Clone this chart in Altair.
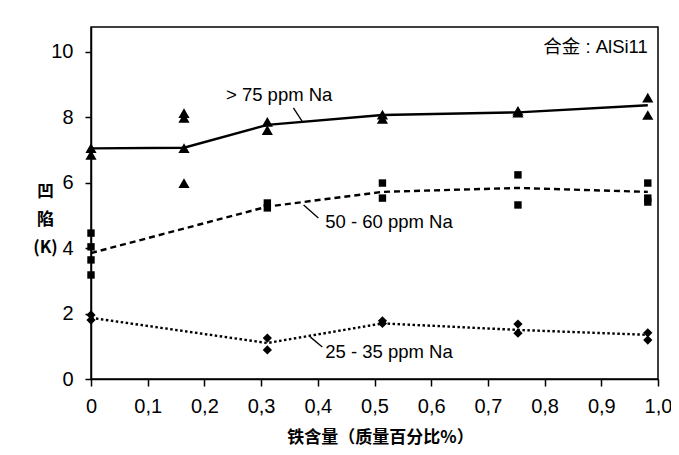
import altair as alt
import pandas as pd

# ---- data ----
tri_x = [0, 0, 0.164, 0.164, 0.164, 0.164, 0.311, 0.311, 0.514, 0.514, 0.753, 0.753, 0.982, 0.982]
tri_y = [7.06, 6.85, 8.13, 7.98, 7.06, 5.99, 7.86, 7.61, 8.08, 7.95, 8.20, 8.14, 8.60, 8.07]
l75_x = [0, 0.164, 0.311, 0.514, 0.753, 0.982]
l75_y = [7.05, 7.07, 7.77, 8.07, 8.15, 8.37]

sq_x = [0, 0, 0, 0, 0.311, 0.311, 0.514, 0.514, 0.753, 0.753, 0.982, 0.982, 0.982]
sq_y = [4.46, 4.04, 3.64, 3.18, 5.38, 5.23, 5.99, 5.53, 6.24, 5.32, 5.99, 5.53, 5.41]
l50_x = [0, 0.311, 0.514, 0.753, 0.982]
l50_y = [3.85, 5.27, 5.72, 5.84, 5.72]

dia_x = [0, 0, 0.311, 0.311, 0.514, 0.514, 0.753, 0.753, 0.982, 0.982]
dia_y = [1.96, 1.80, 1.25, 0.89, 1.78, 1.70, 1.68, 1.40, 1.41, 1.19]
l25_x = [0, 0.311, 0.514, 0.753, 0.982]
l25_y = [1.87, 1.10, 1.70, 1.50, 1.35]

ann_text = ["> 75 ppm Na", "50 - 60 ppm Na", "25 - 35 ppm Na"]
ann_x = [0.238, 0.413, 0.413]
ann_y = [8.68, 4.80, 0.83]
lead_x = [0.357, 0.375, 0.387]
lead_y = [8.29, 5.32, 1.28]
lead_x2 = [0.373, 0.401, 0.408]
lead_y2 = [7.86, 4.92, 0.98]

alloy_text = ["合金 : AlSi11"]
alloy_x = [0.982]
alloy_y = [10.15]

x_ticks = [0, 0.1, 0.2, 0.3, 0.4, 0.5, 0.6, 0.7, 0.8, 0.9, 1.0]
y_ticks = [0, 2, 4, 6, 8, 10]
x_title = "铁含量（质量百分比%）"
y_title = ["凹", "陷", "(K)"]

FONT = "Liberation Sans, Arial, Noto Sans CJK SC"
CJK = "Noto Sans CJK SC"

xs = alt.Scale(domain=[0, 1], nice=False, zero=False)
ys = alt.Scale(domain=[0, 10.76], nice=False)

x_enc = alt.X("x:Q", scale=xs, axis=alt.Axis(
    values=x_ticks, title=x_title, grid=False, labelFlush=False,
    labelExpr="datum.value == 0 ? '0' : replace(format(datum.value, '.1f'), '.', ',')",
    labelFont=FONT, labelFontSize=20, labelColor="black", labelPadding=10,
    tickSize=7, tickColor="black", tickWidth=1.5,
    domainColor="black", domainWidth=1.5,
    titleFont=CJK, titleFontSize=17, titleFontWeight="bold", titleColor="black",
    titleX=289, titleY=58, titleBaseline="middle", titleAlign="center",
))
y_enc = alt.Y("y:Q", scale=ys, axis=alt.Axis(
    values=y_ticks, title=y_title, grid=False, labelFlush=False,
    labelFont=FONT, labelFontSize=20, labelColor="black", labelPadding=12,
    tickSize=6, tickColor="black", tickWidth=1.5,
    domainColor="black", domainWidth=1.5,
    titleFont=CJK, titleFontSize=17, titleFontWeight="bold", titleColor="black",
    titleAngle=0, titleAlign="center", titleBaseline="top",
    titleX=-46, titleY=156, titleLineHeight=28,
))

tri = pd.DataFrame({"x": tri_x, "y": tri_y})
sq = pd.DataFrame({"x": sq_x, "y": sq_y})
dia = pd.DataFrame({"x": dia_x, "y": dia_y})
l75 = pd.DataFrame({"x": l75_x, "y": l75_y})
l50 = pd.DataFrame({"x": l50_x, "y": l50_y})
l25 = pd.DataFrame({"x": l25_x, "y": l25_y})
ann = pd.DataFrame({"t": ann_text, "x": ann_x, "y": ann_y,
                    "lx": lead_x, "ly": lead_y, "lx2": lead_x2, "ly2": lead_y2})
alloy = pd.DataFrame({"t": alloy_text, "x": alloy_x, "y": alloy_y})

base_line = dict(color="black", strokeWidth=2.4)

line75 = alt.Chart(l75).mark_line(**base_line).encode(x=x_enc, y=y_enc)
line50 = alt.Chart(l50).mark_line(strokeDash=[6, 4], **base_line).encode(x=x_enc, y=y_enc)
line25 = alt.Chart(l25).mark_line(strokeDash=[2.5, 2.5], **base_line).encode(x=x_enc, y=y_enc)

pts_tri = alt.Chart(tri).mark_point(shape="triangle-up", filled=True, color="black",
                                    opacity=1, size=125).encode(x=x_enc, y=y_enc)
pts_sq = alt.Chart(sq).mark_point(shape="square", filled=True, color="black",
                                  opacity=1, size=55).encode(x=x_enc, y=y_enc)
pts_dia = alt.Chart(dia).mark_point(shape="diamond", filled=True, color="black",
                                    opacity=1, size=85).encode(x=x_enc, y=y_enc)

leaders = alt.Chart(ann).mark_rule(color="black", strokeWidth=1.3).encode(
    x=alt.X("lx:Q", scale=xs), y=alt.Y("ly:Q", scale=ys),
    x2="lx2:Q", y2="ly2:Q")
labels = alt.Chart(ann).mark_text(align="left", baseline="middle", font=FONT,
                                  fontSize=18.5, color="black").encode(
    x=alt.X("x:Q", scale=xs), y=alt.Y("y:Q", scale=ys), text="t:N")
alloy_lbl = alt.Chart(alloy).mark_text(align="right", baseline="middle", font=FONT,
                                       fontSize=18.5, color="black").encode(
    x=alt.X("x:Q", scale=xs), y=alt.Y("y:Q", scale=ys), text="t:N")

chart = alt.layer(line75, line50, line25, pts_tri, pts_sq, pts_dia,
                  leaders, labels, alloy_lbl).properties(
    width=567, height=352,
    autosize=alt.AutoSizeParams(type="none"),
    padding={"left": 83, "top": 19, "right": 13, "bottom": 68},
    background="white",
).configure_view(stroke="black", strokeWidth=1.5)

chart.save("out.html", embed_options={"renderer": "svg", "actions": False})
